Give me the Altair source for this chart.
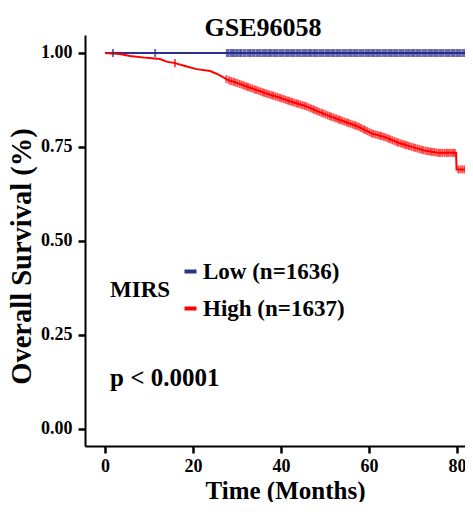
import altair as alt
import pandas as pd
import numpy as np

title_text = "GSE96058"
legend_title = "MIRS"
group_names = ["Low (n=1636)", "High (n=1637)"]
group_colors = ["#2B2E8C", "#FF0000"]
p_text = "p < 0.0001"

x_ticks = [0, 20, 40, 60, 80]
y_ticks = [0.0, 0.25, 0.50, 0.75, 1.00]

low_time = [0.0, 82.6]
low_surv = [1.0, 1.0]

high_time = [0.0, 3.4, 5.7, 9.5, 12.5, 14.0, 15.9, 18.6, 20.8, 23.9, 25.7, 28.0,
             30.3, 33.3, 36.4, 39.4, 42.4, 45.5, 48.5, 51.5, 54.5, 57.6, 60.6,
             63.6, 66.7, 69.7, 72.7, 75.8, 79.8, 79.9, 82.6]
high_surv = [1.0, 0.997, 0.992, 0.987, 0.984, 0.977, 0.973, 0.964, 0.957, 0.952, 0.943, 0.928,
             0.919, 0.906, 0.893, 0.882, 0.870, 0.859, 0.844, 0.830, 0.817, 0.804, 0.786,
             0.776, 0.761, 0.750, 0.740, 0.734, 0.734, 0.690, 0.690]

low_censor = [1.8, 11.4, 27.7, 28.1, 28.6, 29.0, 29.3, 29.8, 30.2, 30.7, 31.0, 31.5, 31.9,
              32.4, 32.8, 33.1, 33.6, 34.0, 34.5, 34.9, 35.3, 35.8, 36.2, 36.6, 37.1, 37.5,
              37.9, 38.4, 38.8, 39.2, 39.7, 40.1, 40.5, 41.0, 41.4, 41.8, 42.3, 42.7, 43.1,
              43.6, 44.0, 44.4, 44.9, 45.3, 45.7, 46.2, 46.6, 47.0, 47.5, 47.9, 48.3, 48.8,
              49.2, 49.6, 50.1, 50.5, 50.9, 51.4, 51.8, 52.2, 52.7, 53.1, 53.5, 54.0, 54.4,
              54.8, 55.3, 55.7, 56.1, 56.6, 57.0, 57.4, 57.9, 58.3, 58.7, 59.2, 59.6, 60.0,
              60.5, 60.9, 61.3, 61.8, 62.2, 62.6, 63.1, 63.5, 63.9, 64.4, 64.8, 65.2, 65.7,
              66.1, 66.5, 67.0, 67.4, 67.8, 68.3, 68.7, 69.1, 69.6, 70.0, 70.4, 70.9, 71.3,
              71.7, 72.2, 72.6, 73.0, 73.5, 73.9, 74.3, 74.8, 75.2, 75.6, 76.1, 76.5, 76.9,
              77.4, 77.8, 78.2, 78.7, 79.1, 79.5, 80.0, 80.4, 80.8, 81.3, 81.7, 82.1, 82.5]

high_censor = [15.9, 27.6, 28.2, 28.7, 29.2, 29.6, 30.1, 30.6, 31.1, 31.6, 32.1, 32.5, 33.0,
               33.5, 34.0, 34.4, 34.9, 35.4, 35.9, 36.3, 36.8, 37.3, 37.8, 38.2, 38.7, 39.2,
               39.7, 40.1, 40.6, 41.1, 41.6, 42.0, 42.5, 43.0, 43.5, 43.9, 44.4, 44.9, 45.4,
               45.8, 46.3, 46.8, 47.3, 47.7, 48.2, 48.7, 49.2, 49.6, 50.1, 50.6, 51.1, 51.5,
               52.0, 52.5, 53.0, 53.4, 53.9, 54.4, 54.9, 55.3, 55.8, 56.3, 56.8, 57.2, 57.7,
               58.2, 58.7, 59.1, 59.6, 60.1, 60.6, 61.0, 61.5, 62.0, 62.5, 62.9, 63.4, 63.9,
               64.4, 64.8, 65.3, 65.8, 66.3, 66.7, 67.2, 67.7, 68.2, 68.6, 69.1, 69.6, 70.1,
               70.5, 71.0, 71.5, 72.0, 72.4, 72.9, 73.4, 73.9, 74.3, 74.8, 75.3, 75.8, 76.2,
               76.7, 77.2, 77.7, 78.1, 78.6, 79.1, 79.5, 80.3, 80.8, 81.3, 81.8, 82.3]

FONT = "Liberation Serif"

curve_df = pd.concat([
    pd.DataFrame({"time": low_time, "surv": low_surv, "group": group_names[0]}),
    pd.DataFrame({"time": high_time, "surv": high_surv, "group": group_names[1]}),
], ignore_index=True)
curve_df["order"] = range(len(curve_df))

cens_df = pd.concat([
    pd.DataFrame({"time": low_censor,
                  "surv": np.interp(low_censor, low_time, low_surv),
                  "group": group_names[0]}),
    pd.DataFrame({"time": high_censor,
                  "surv": np.interp(high_censor, high_time, high_surv),
                  "group": group_names[1]}),
], ignore_index=True)

x_scale = alt.Scale(domain=[-4.545, 81.82], nice=False, zero=False)
y_scale = alt.Scale(domain=[-0.0466, 1.0479], nice=False, zero=False)
color_scale = alt.Scale(domain=group_names, range=group_colors)

x_enc = alt.X("time:Q", scale=x_scale,
              axis=alt.Axis(values=x_ticks, title="Time (Months)", format="d",
                            titleX=200, titleY=52, titleAlign="center",
                            titleBaseline="alphabetic", titleFontSize=25,
                            labelPadding=4))
y_enc = alt.Y("surv:Q", scale=y_scale,
              axis=alt.Axis(values=y_ticks, title="Overall Survival (%)", format=".2f",
                            titleX=-55, titleY=221, titleAngle=-90, titleAlign="center",
                            titleBaseline="alphabetic", titleFontSize=28.5,
                            labelPadding=6))

lines = alt.Chart(curve_df).mark_line(strokeWidth=2, interpolate="linear").encode(
    x=x_enc, y=y_enc,
    color=alt.Color("group:N", scale=color_scale, sort=group_names,
                    legend=alt.Legend(title=legend_title, orient="none",
                                      legendX=25, legendY=225,
                                      titleOrient="left", titleAnchor="middle",
                                      direction="vertical",
                                      symbolType="stroke", symbolSize=144,
                                      symbolStrokeWidth=4,
                                      labelFont=FONT, labelFontSize=23,
                                      labelFontWeight="bold", labelColor="black",
                                      titleFont=FONT, titleFontSize=23,
                                      titleFontWeight="bold", titleColor="black",
                                      titlePadding=8, rowPadding=13, labelOffset=1)),
    order="order:Q",
)

ticks = alt.Chart(cens_df).mark_tick(orient="vertical", size=8, thickness=2).encode(
    x=alt.X("time:Q", scale=x_scale),
    y=alt.Y("surv:Q", scale=y_scale),
    color=alt.Color("group:N", scale=color_scale, sort=group_names, legend=None),
)

ptxt = alt.Chart(pd.DataFrame({"t": [p_text]})).mark_text(
    font=FONT, fontSize=25, fontWeight="bold", align="left", baseline="alphabetic",
    color="black").encode(x=alt.value(25), y=alt.value(351), text="t:N")

ttl = alt.Chart(pd.DataFrame({"t": [title_text]})).mark_text(
    font=FONT, fontSize=26, fontWeight="bold", align="center", baseline="alphabetic",
    color="black").encode(x=alt.value(178), y=alt.value(1), text="t:N")

chart = alt.layer(lines, ticks, ptxt, ttl).properties(
    width=380, height=411,
    autosize=alt.AutoSizeParams(type="none"),
    padding={"left": 77, "top": 27, "right": 0, "bottom": 56},
).configure_view(stroke=None).configure_axis(
    grid=False, domainColor="black", domainWidth=2, tickColor="black",
    tickWidth=2.5, tickSize=7, labelFont=FONT, labelFontSize=18,
    labelFontWeight="bold", labelColor="black", titleFont=FONT,
    titleFontWeight="bold", titleColor="black",
)

chart.save("out.html", embed_options={"renderer": "svg", "actions": False})
